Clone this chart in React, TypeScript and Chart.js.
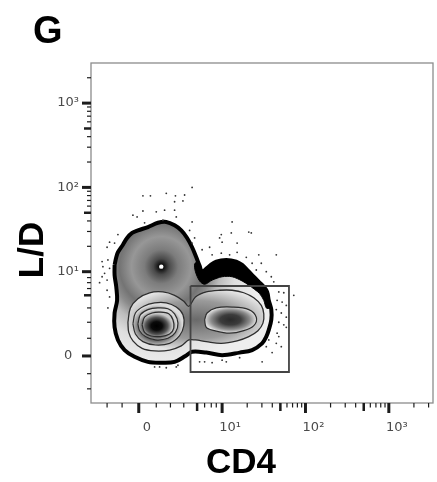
import { useEffect, useRef } from 'react';
import { Chart, registerables } from 'chart.js';

Chart.register(...registerables);

// ---------- axes (biexponential display units: 0 -> 0, 10^n -> n) ----------
const X_MIN = -0.573;
const X_MAX = 3.53;
const Y_MIN = -0.558;
const Y_MAX = 3.476;
const MAJOR_TICKS = [0, 1, 2, 3];
const MAJOR_TICK_LABELS = ['0', '10¹', '10²', '10³'];
const X_MINOR_LINEAR = [-0.38, -0.2, 0.21, 0.38, 0.54, 0.7, 0.79, 0.87, 0.93];
const Y_MINOR_LINEAR = [-0.39, -0.21, 0.21, 0.4, 0.57, 0.72, 0.8, 0.87, 0.93];
const X_BOLD_LINEAR = [0.7];
const Y_BOLD_LINEAR = [0.72];
const LOG_DECADES = [1, 2, 3];
const LOG_MULTIPLIERS = [2, 3, 4, 5, 6, 7, 8, 9];
const LOG_BOLD_MULTIPLIER = 5;

const X_TITLE = 'CD4';
const Y_TITLE = 'L/D';
const PANEL_LABEL = 'G';

// ---------- density contours (CD4, L/D in display units) ----------
const OUTER_CONTOUR = [
  [-0.29, 1.08], [-0.27, 1.17], [-0.25, 1.23], [-0.19, 1.32], [-0.14, 1.4], [-0.08, 1.46],
  [-0.01, 1.49], [0.11, 1.53], [0.23, 1.58], [0.33, 1.59], [0.43, 1.55], [0.51, 1.49],
  [0.58, 1.4], [0.64, 1.29], [0.69, 1.17], [0.73, 1.07], [0.76, 1.0], [0.85, 1.07],
  [0.93, 1.12], [1.05, 1.14], [1.17, 1.12], [1.24, 1.08], [1.3, 1.02], [1.36, 0.96],
  [1.44, 0.88], [1.5, 0.82], [1.54, 0.76], [1.56, 0.66], [1.59, 0.55], [1.59, 0.43],
  [1.56, 0.31], [1.53, 0.23], [1.48, 0.15], [1.36, 0.07], [1.21, 0.04], [1.0, 0.01],
  [0.81, 0.04], [0.64, 0.05], [0.56, 0.0], [0.43, -0.07], [0.27, -0.08], [0.11, -0.07],
  [-0.05, -0.01], [-0.17, 0.07], [-0.25, 0.19], [-0.29, 0.34], [-0.29, 0.51], [-0.26, 0.66],
  [-0.27, 0.82], [-0.29, 0.96],
];
const DENSE_BAND = [
  [0.7, 1.12], [0.73, 1.04], [0.78, 1.01], [0.85, 1.07], [0.93, 1.12], [1.05, 1.14],
  [1.17, 1.12], [1.24, 1.08], [1.3, 1.02], [1.36, 0.96], [1.44, 0.88], [1.5, 0.82],
  [1.54, 0.76], [1.56, 0.66], [1.57, 0.57], [1.53, 0.57], [1.5, 0.66], [1.45, 0.74],
  [1.39, 0.79], [1.32, 0.84], [1.24, 0.89], [1.12, 0.94], [1.0, 0.94], [0.88, 0.9],
  [0.79, 0.85], [0.73, 0.89], [0.68, 1.0], [0.67, 1.09],
];
const LOWER_CONTOUR = [
  [-0.13, 0.4], [-0.1, 0.57], [-0.01, 0.68], [0.13, 0.75], [0.29, 0.76], [0.43, 0.72],
  [0.54, 0.65], [0.6, 0.59], [0.68, 0.7], [0.81, 0.76], [0.97, 0.78], [1.12, 0.78],
  [1.26, 0.75], [1.38, 0.69], [1.47, 0.6], [1.5, 0.5], [1.49, 0.39], [1.43, 0.3],
  [1.32, 0.23], [1.18, 0.18], [0.99, 0.15], [0.81, 0.17], [0.68, 0.19], [0.6, 0.19],
  [0.51, 0.12], [0.37, 0.07], [0.19, 0.06], [0.04, 0.09], [-0.07, 0.18], [-0.12, 0.28],
];
const LEFT_RING_1 = [
  [-0.07, 0.38], [-0.04, 0.51], [0.06, 0.59], [0.19, 0.63], [0.33, 0.63], [0.45, 0.58],
  [0.53, 0.49], [0.54, 0.36], [0.49, 0.24], [0.37, 0.15], [0.2, 0.13], [0.05, 0.17],
  [-0.04, 0.26],
];
const LEFT_RING_2 = [
  [-0.01, 0.38], [0.02, 0.49], [0.11, 0.55], [0.23, 0.57], [0.35, 0.56], [0.43, 0.5],
  [0.47, 0.39], [0.44, 0.28], [0.35, 0.21], [0.2, 0.19], [0.08, 0.23], [0.01, 0.3],
];
const LEFT_RING_3 = [
  [0.04, 0.37], [0.07, 0.46], [0.16, 0.51], [0.26, 0.52], [0.36, 0.5], [0.41, 0.43],
  [0.42, 0.33], [0.37, 0.26], [0.26, 0.23], [0.14, 0.24], [0.07, 0.28],
];
const RIGHT_RING_1 = [
  [0.79, 0.43], [0.82, 0.51], [0.93, 0.57], [1.12, 0.58], [1.32, 0.55], [1.41, 0.46],
  [1.38, 0.36], [1.26, 0.3], [1.09, 0.27], [0.91, 0.3], [0.81, 0.34],
];
// density peaks: upper (live/dead high), lower-left, lower-right, lower waist
const PEAK_UPPER = [0.27, 1.06];
const PEAK_LOWER_LEFT = [0.215, 0.356];
const PEAK_LOWER_RIGHT = [1.1, 0.43];
const PEAK_LOWER_MID = [0.69, 0.43];

// sparse events outside the outer contour
const OUTLIER_EVENTS = [
  [0.05, 1.9], [0.14, 1.9], [0.33, 1.93], [0.44, 1.9], [0.55, 1.91], [0.64, 2.0], [0.43, 1.83], [0.53, 1.84],
  [0.05, 1.72], [0.21, 1.71], [0.31, 1.73], [0.43, 1.73], [-0.07, 1.67], [-0.02, 1.65], [0.07, 1.58], [0.29, 1.61],
  [0.45, 1.65], [0.64, 1.59], [-0.25, 1.44], [-0.35, 1.35], [-0.29, 1.34], [-0.38, 1.29], [-0.44, 1.12], [-0.37, 1.14],
  [-0.43, 1.06], [-0.35, 1.04], [-0.44, 0.94], [-0.38, 0.9], [-0.47, 0.87], [0.61, 1.49], [0.67, 1.4], [-0.41, 0.98],
  [-0.38, 0.78], [-0.37, 0.57], [0.99, 1.44], [1.11, 1.46], [1.32, 1.47], [0.64, 1.34], [0.76, 1.26], [0.85, 1.29],
  [1.0, 1.35], [1.18, 1.34], [0.88, 1.2], [0.99, 1.22], [1.09, 1.2], [1.18, 1.23], [1.29, 1.17], [1.44, 1.2],
  [1.65, 1.2], [1.36, 1.1], [1.47, 1.1], [1.41, 1.02], [1.53, 1.0], [1.59, 0.94], [1.62, 0.88], [1.68, 0.76],
  [1.74, 0.75], [1.66, 0.66], [1.72, 0.64], [1.77, 0.6], [1.65, 0.55], [1.71, 0.51], [1.77, 0.46], [1.68, 0.4],
  [1.74, 0.37], [1.86, 0.72], [1.71, 0.11], [1.77, 0.34], [1.68, 0.23], [1.6, 0.04], [0.25, -0.13], [0.33, -0.14],
  [0.45, -0.13], [0.73, -0.07], [0.88, -0.08], [1.05, -0.07], [1.21, -0.02], [1.48, -0.07], [1.53, 0.11], [1.12, 1.59],
  [1.35, 1.46], [0.97, 1.4], [0.79, -0.07], [1.0, -0.05], [1.56, 0.19], [1.65, 0.15], [1.66, 0.27], [0.19, -0.13],
  [0.47, -0.11], [-0.35, 0.7],
];

// CD4+ gate
const GATE = [[0.621, 0.83], [1.802, 0.83], [1.802, -0.19], [0.621, -0.19]];

// ---------- styles ----------
type Stop = [number, string];
const UPPER_STOPS: Stop[] = [
  [0, '#000'], [0.03, '#141414'], [0.08, '#4a4a4a'], [0.17, '#7c7c7c'], [0.3, '#979797'],
  [0.42, '#747474'], [0.5, '#8c8c8c'], [0.6, '#bcbcbc'], [0.75, '#dedede'], [1, '#eeeeee'],
];
const LOWER_STOPS: Stop[] = [[0, '#6a6a6a'], [0.6, '#9a9a9a'], [0.85, '#c8c8c8'], [1, '#e4e4e4']];
const RING1_STOPS: Stop[] = [[0, '#000'], [0.55, '#333'], [0.78, '#8a8a8a'], [1, '#dcdcdc']];
const RING2_STOPS: Stop[] = [[0, '#000'], [0.6, '#444'], [0.8, '#888'], [1, '#d8d8d8']];
const RING3_STOPS: Stop[] = [[0, '#000'], [0.35, '#0a0a0a'], [0.7, '#555'], [1, '#c8c8c8']];
const RIGHT_STOPS: Stop[] = [[0, '#2a2a2a'], [0.4, '#3c3c3c'], [0.75, '#8c8c8c'], [1, '#dedede']];

function ellipticFill(center: number[], rx: number, ry: number, stops: Stop[]) {
  return (context: any) => {
    const chart = context.chart;
    const { chartArea, scales } = chart;
    if (!chartArea || !scales.x || !scales.y) return stops[stops.length - 1][1];
    const cx = scales.x.getPixelForValue(center[0]);
    const cy = scales.y.getPixelForValue(center[1]);
    const prx = Math.abs(scales.x.getPixelForValue(center[0] + rx) - cx);
    const pry = Math.abs(scales.y.getPixelForValue(center[1] + ry) - cy);
    const dpr = chart.currentDevicePixelRatio || 1;
    const off = document.createElement('canvas');
    off.width = chart.canvas.width;
    off.height = chart.canvas.height;
    const o = off.getContext('2d');
    if (!o) return stops[stops.length - 1][1];
    o.setTransform(dpr, 0, 0, (dpr * pry) / prx, dpr * cx, dpr * cy);
    const g = o.createRadialGradient(0, 0, 0, 0, 0, prx);
    stops.forEach(([s, c]) => g.addColorStop(s, c));
    o.fillStyle = g;
    o.fillRect(-6000, -6000, 12000, 12000);
    const pat = chart.ctx.createPattern(off, 'no-repeat');
    if (pat && dpr !== 1 && (pat as any).setTransform) {
      (pat as any).setTransform(new DOMMatrix([1 / dpr, 0, 0, 1 / dpr, 0, 0]));
    }
    return pat;
  };
}

const toPts = (arr: number[][]) => arr.map(([x, y]) => ({ x, y }));
const closed = (arr: number[][]) => toPts([...arr, arr[0]]);

function contour(label: string, pts: number[][], bg: any, border: string, width: number, order: number, tension = 0.35) {
  return {
    type: 'line' as const,
    label,
    data: closed(pts),
    fill: 'shape',
    backgroundColor: bg,
    borderColor: border,
    borderWidth: width,
    pointRadius: 0,
    tension,
    order,
  };
}

const TITLE_FONT = '"Liberation Sans", Arial, sans-serif';

const decorations = {
  id: 'flowDecorations',
  afterDraw(chart: any) {
    const { ctx, chartArea: a, scales } = chart;
    const xs = scales.x;
    const ys = scales.y;
    ctx.save();
    // frame
    ctx.strokeStyle = '#8c8c8c';
    ctx.lineWidth = 1.3;
    ctx.strokeRect(a.left, a.top, a.right - a.left, a.bottom - a.top);
    // tick marks
    ctx.strokeStyle = '#1c1c1c';
    const tx = (v: number, len: number, w: number) => {
      if (v < X_MIN || v > X_MAX) return;
      const p = xs.getPixelForValue(v);
      ctx.lineWidth = w;
      ctx.beginPath();
      ctx.moveTo(p, a.bottom);
      ctx.lineTo(p, a.bottom + len);
      ctx.stroke();
    };
    const ty = (v: number, len: number, w: number) => {
      if (v < Y_MIN || v > Y_MAX) return;
      const p = ys.getPixelForValue(v);
      ctx.lineWidth = w;
      ctx.beginPath();
      ctx.moveTo(a.left, p);
      ctx.lineTo(a.left - len, p);
      ctx.stroke();
    };
    MAJOR_TICKS.forEach((v) => { tx(v, 10, 3); ty(v, 9, 3); });
    X_MINOR_LINEAR.forEach((v) => tx(v, X_BOLD_LINEAR.includes(v) ? 8 : 4.5, X_BOLD_LINEAR.includes(v) ? 2.5 : 1.2));
    Y_MINOR_LINEAR.forEach((v) => ty(v, Y_BOLD_LINEAR.includes(v) ? 7 : 4, Y_BOLD_LINEAR.includes(v) ? 2.5 : 1.2));
    LOG_DECADES.forEach((d) => {
      LOG_MULTIPLIERS.forEach((k) => {
        const v = d + Math.log10(k);
        const bold = k === LOG_BOLD_MULTIPLIER;
        tx(v, bold ? 8 : 4.5, bold ? 2.5 : 1.2);
        ty(v, bold ? 7 : 4, bold ? 2.5 : 1.2);
      });
    });
    // titles
    ctx.fillStyle = '#000';
    ctx.textBaseline = 'alphabetic';
    ctx.font = `bold 35px ${TITLE_FONT}`;
    ctx.textAlign = 'center';
    ctx.fillText(X_TITLE, a.left + 150, a.bottom + 70);
    ctx.save();
    ctx.translate(a.left - 48, a.top + 187);
    ctx.rotate(-Math.PI / 2);
    ctx.fillText(Y_TITLE, 0, 0);
    ctx.restore();
    ctx.font = `bold 38px ${TITLE_FONT}`;
    ctx.textAlign = 'left';
    ctx.fillText(PANEL_LABEL, a.left - 58, a.top - 20);
    ctx.restore();
  },
};

const tickFont = { family: '"DejaVu Sans", sans-serif', size: 13 };

export default function App() {
  const ref = useRef<HTMLCanvasElement>(null);
  useEffect(() => {
    if (!ref.current) return;
    const chart = new Chart(ref.current, {
      type: 'scatter',
      data: {
        datasets: [
          contour('outer contour', OUTER_CONTOUR, ellipticFill(PEAK_UPPER, 1.19, 1.19, UPPER_STOPS), '#000', 4, 20),
          contour('dense band', DENSE_BAND, '#000', '#000', 1, 19, 0.3),
          contour('lower contour', LOWER_CONTOUR, ellipticFill(PEAK_LOWER_MID, 0.895, 0.38, LOWER_STOPS), '#2e2e2e', 1.3, 18),
          contour('left ring 1', LEFT_RING_1, ellipticFill(PEAK_LOWER_LEFT, 0.31, 0.25, RING1_STOPS), '#2e2e2e', 1.2, 17),
          contour('left ring 2', LEFT_RING_2, ellipticFill(PEAK_LOWER_LEFT, 0.24, 0.19, RING2_STOPS), '#2e2e2e', 1.2, 16),
          contour('left ring 3', LEFT_RING_3, ellipticFill(PEAK_LOWER_LEFT, 0.19, 0.145, RING3_STOPS), '#2e2e2e', 1.2, 15),
          contour('right ring 1', RIGHT_RING_1, ellipticFill(PEAK_LOWER_RIGHT, 0.31, 0.155, RIGHT_STOPS), '#2e2e2e', 1.2, 17),
          {
            type: 'scatter' as const,
            label: 'peak',
            data: toPts([PEAK_UPPER]),
            pointRadius: 2.2,
            backgroundColor: '#fff',
            borderWidth: 0,
            order: 2,
          },
          {
            type: 'scatter' as const,
            label: 'events',
            data: toPts(OUTLIER_EVENTS),
            pointRadius: 0.9,
            backgroundColor: '#333',
            borderWidth: 0,
            order: 1,
          },
          {
            type: 'line' as const,
            label: 'gate',
            data: closed(GATE),
            fill: false,
            borderColor: '#444',
            borderWidth: 1.8,
            pointRadius: 0,
            tension: 0,
            order: 0,
          },
        ] as any,
      },
      options: {
        animation: false,
        responsive: true,
        maintainAspectRatio: false,
        devicePixelRatio: 1,
        events: [],
        layout: { padding: { top: 63, right: 2, bottom: 0, left: 0 } },
        plugins: { legend: { display: false }, tooltip: { enabled: false } },
        scales: {
          x: {
            type: 'linear',
            min: X_MIN,
            max: X_MAX,
            grid: { display: false, drawTicks: false },
            border: { display: false },
            afterFit: (s: any) => { s.height = 79; },
            afterBuildTicks: (s: any) => { s.ticks = MAJOR_TICKS.map((value) => ({ value })); },
            ticks: {
              autoSkip: false,
              maxRotation: 0,
              padding: 17,
              labelOffset: 8,
              color: '#4a4a4a',
              font: tickFont,
              callback: (_v: any, i: number) => MAJOR_TICK_LABELS[i],
            },
          },
          y: {
            type: 'linear',
            min: Y_MIN,
            max: Y_MAX,
            grid: { display: false, drawTicks: false },
            border: { display: false },
            afterFit: (s: any) => { s.width = 91; },
            afterBuildTicks: (s: any) => { s.ticks = MAJOR_TICKS.map((value) => ({ value })); },
            ticks: {
              autoSkip: false,
              padding: 12,
              crossAlign: 'center',
              color: '#4a4a4a',
              font: tickFont,
              callback: (_v: any, i: number) => MAJOR_TICK_LABELS[i],
            },
          },
        },
      } as any,
      plugins: [decorations],
    });
    return () => chart.destroy();
  }, []);
  return (
    <div style={{ position: 'fixed', left: 0, top: 0, width: 437, height: 482, background: '#fff' }}>
      <canvas ref={ref} />
    </div>
  );
}
